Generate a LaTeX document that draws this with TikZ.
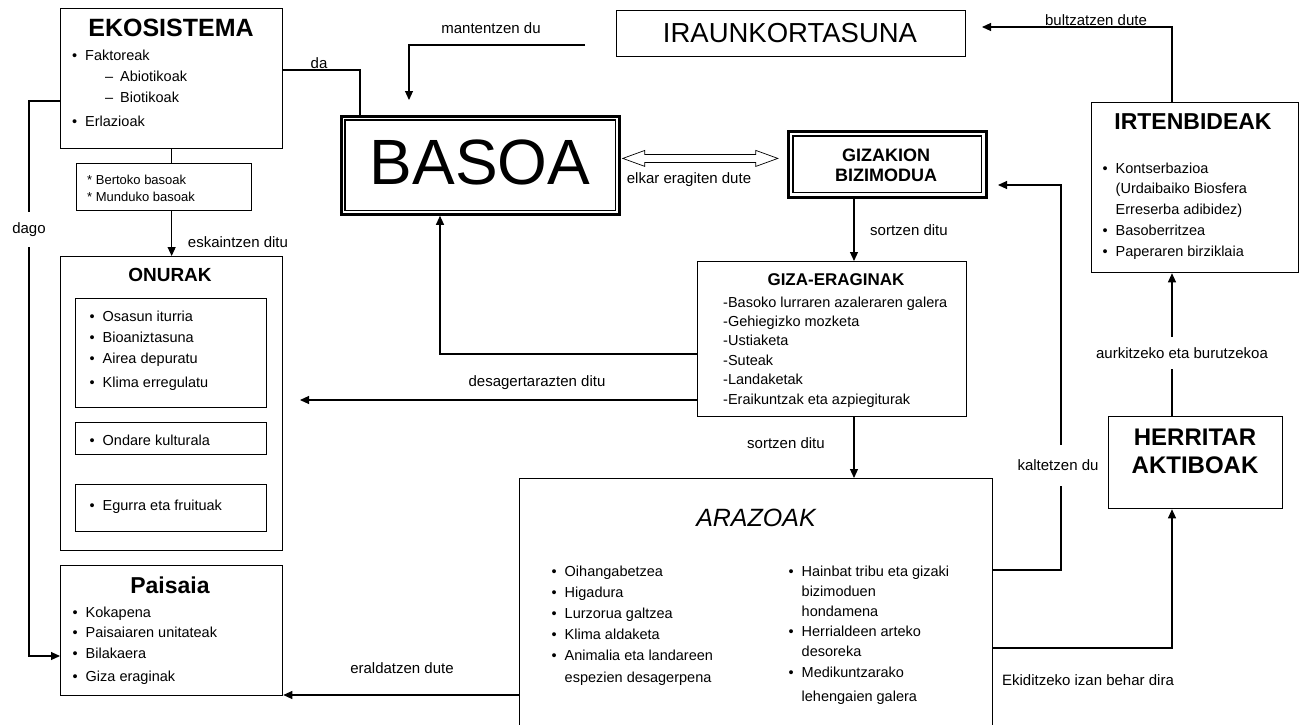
\documentclass[tikz,border=0pt]{standalone}
\usepackage{fontspec}
\setmainfont{Liberation Sans}
\usetikzlibrary{arrows.meta,calc}
\newcommand{\dotitem}{\makebox[13pt][l]{\textbullet}}

\begin{document}
\begin{tikzpicture}[x=1pt,y=-1pt,
    box/.style={draw,line width=1.3pt,anchor=north west,inner sep=0pt},
    conn/.style={line width=1.1pt},
    arr/.style={conn,-{Triangle[length=9pt,width=8pt]}},
    lbl/.style={font=\fontsize{15}{17}\selectfont,inner sep=1pt},
    items/.style={anchor=base west,inner sep=0pt,font=\fontsize{14.5}{#1}\selectfont},
    items/.default=21,
    head/.style={inner sep=0pt,font=\bfseries\fontsize{#1}{#1}\selectfont}]
  \fill[white] (0,0) rectangle (1302,724);
  \useasboundingbox (0,0) rectangle (1302,724);

  % boxes on the left
  \node[box,minimum width=222pt,minimum height=140pt] (eko) at (60,8) {};
  \node[head=25] (ekotit) at (171,28) {EKOSISTEMA};
  \node[items] (ekolist) at (72,60) {\begin{tabular}[t]{@{}l@{}}
      \dotitem Faktoreak\\
      \hspace*{33pt}\makebox[15pt][l]{–}Abiotikoak\\
      \hspace*{33pt}\makebox[15pt][l]{–}Biotikoak\\[3pt]
      \dotitem Erlazioak
    \end{tabular}};
  \node[box,line width=1.1pt,minimum width=175pt,minimum height=47pt] (bertoko) at (76,163) {};
  \node[items,font=\fontsize{13}{17}\selectfont] (bertolist) at (87,184) {\begin{tabular}[t]{@{}l@{}}
      {*} Bertoko basoak\\
      {*} Munduko basoak
    \end{tabular}};

  \node[box,minimum width=222pt,minimum height=294pt] (onurak) at (60,256) {};
  \node[head=19] (onutit) at (170,275) {ONURAK};
  \node[box,line width=1.2pt,minimum width=191pt,minimum height=109pt] (onu1) at (75,298) {};
  \node[box,line width=1.2pt,minimum width=191pt,minimum height=32pt] (onu2) at (75,422) {};
  \node[box,line width=1.2pt,minimum width=191pt,minimum height=47pt] (onu3) at (75,484) {};
  \node[items] (onulist) at (89.5,321) {\begin{tabular}[t]{@{}l@{}}
      \dotitem Osasun iturria\\
      \dotitem Bioaniztasuna\\
      \dotitem Airea depuratu\\[3pt]
      \dotitem Klima erregulatu
    \end{tabular}};
  \node[items] (ondare) at (89.5,445) {\dotitem Ondare kulturala};
  \node[items] (egurra) at (89.5,510) {\dotitem Egurra eta fruituak};

  \node[box,minimum width=222pt,minimum height=130pt] (paisaia) at (60,565) {};
  \node[head=23] (paitit) at (170,585) {Paisaia};
  \node[items=20.5] (pailist) at (72.5,617) {\begin{tabular}[t]{@{}l@{}}
      \dotitem Kokapena\\
      \dotitem Paisaiaren unitateak\\
      \dotitem Bilakaera\\[2.5pt]
      \dotitem Giza eraginak
    \end{tabular}};

  % middle
  \node[box,line width=2.8pt,minimum width=278pt,minimum height=98pt] (basoa) at (340,115) {};
  \draw[line width=1.3pt] ($(basoa.north west)+(5pt,-5pt)$) rectangle ($(basoa.south east)+(-5pt,5pt)$);
  \node[inner sep=0pt,font=\fontsize{64}{64}\selectfont] (basotxt) at (480,162) {BASOA};

  \node[box,minimum width=349pt,minimum height=46pt] (iraun) at (616,10) {};
  \node[inner sep=0pt,font=\fontsize{27.5}{27.5}\selectfont] (iraintxt) at (790,33) {IRAUNKORTASUNA};

  \node[box,line width=2.8pt,minimum width=198pt,minimum height=66pt] (gizakion) at (787,130) {};
  \draw[line width=1.3pt] ($(gizakion.north west)+(6pt,-6pt)$) rectangle ($(gizakion.south east)+(-6pt,6pt)$);
  \node[head=18,align=center] (gizaktxt) at (886,165) {GIZAKION\\[2pt]BIZIMODUA};

  \node[box,minimum width=269pt,minimum height=155pt] (giza) at (697,261) {};
  \node[head=17] (gizatit) at (836,280) {GIZA-ERAGINAK};
  \node[items=19.4] (gizalist) at (723,307) {\begin{tabular}[t]{@{}l@{}}
      -Basoko lurraren azaleraren galera\\
      -Gehiegizko mozketa\\
      -Ustiaketa\\
      -Suteak\\
      -Landaketak\\
      -Eraikuntzak eta azpiegiturak
    \end{tabular}};

  \node[box,minimum width=473pt,minimum height=252pt] (arazoak) at (519,478) {};
  \node[inner sep=0pt,font=\itshape\fontsize{25}{25}\selectfont] (aratit) at (756,518) {ARAZOAK};
  \node[items=21.2] (aralist1) at (551.5,576) {\begin{tabular}[t]{@{}l@{}}
      \dotitem Oihangabetzea\\
      \dotitem Higadura\\
      \dotitem Lurzorua galtzea\\
      \dotitem Klima aldaketa\\
      \dotitem Animalia eta landareen\\
      \hspace*{13pt}espezien desagerpena
    \end{tabular}};
  \node[items=20.2] (aralist2) at (788.5,576) {\begin{tabular}[t]{@{}l@{}}
      \dotitem Hainbat tribu eta gizaki\\
      \hspace*{13pt}bizimoduen\\
      \hspace*{13pt}hondamena\\
      \dotitem Herrialdeen arteko\\
      \hspace*{13pt}desoreka\\
      \dotitem Medikuntzarako\\[4pt]
      \hspace*{13pt}lehengaien galera
    \end{tabular}};

  % right side
  \node[box,minimum width=207pt,minimum height=170pt] (irten) at (1091,102) {};
  \node[head=23] (irtentit) at (1193,122) {IRTENBIDEAK};
  \node[items=20.8] (irtenlist) at (1102.5,173) {\begin{tabular}[t]{@{}l@{}}
      \dotitem Kontserbazioa\\
      \hspace*{13pt}(Urdaibaiko Biosfera\\
      \hspace*{13pt}Erreserba adibidez)\\
      \dotitem Basoberritzea\\
      \dotitem Paperaren birziklaia
    \end{tabular}};

  \node[box,minimum width=174pt,minimum height=92pt] (herritar) at (1108,416) {};
  \node[head=24,align=center] (herrtxt) at (1195,451) {HERRITAR\\[4pt]AKTIBOAK};

  % connectors
  \draw[conn] (eko.east |- 0,70) -| (360,0 |- basoa.north);
  \node[lbl] (da) at (319,63) {da};

  \draw[conn] (eko.south) -- (eko.south |- bertoko.north);
  \draw[arr] (eko.south |- bertoko.south) -- (eko.south |- onurak.north);
  \node[lbl] (eskaintzen) at (238,242) {eskaintzen ditu};

  \node[lbl,minimum height=35pt] (dago) at (29,229.5) {dago};
  \draw[conn] (eko.west |- 0,101) -| (dago.north);
  \draw[arr] (dago.south) |- (paisaia.west |- 0,656);

  \coordinate (mantstart) at (585,45);
  \coordinate (mantend) at (409,100);
  \draw[arr] (mantstart) -| (mantend);
  \node[lbl] (mantentzen) at (491,28) {mantentzen du};

  \path (basoa.east) ++(2pt,7pt) coordinate (elkarl);
  \draw[line width=0.7pt] (elkarl) -- ++(22pt,8pt) -- ++(0,-4pt) -- ++(111pt,0) -- ++(0,4pt)
    -- ++(22pt,-8pt) -- ++(-22pt,-8pt) -- ++(0,4pt) -- ++(-111pt,0) -- ++(0,-4pt) -- cycle;
  \node[lbl] (elkar) at (689,180) {elkar eragiten dute};

  \coordinate (bultzend) at (982,27);
  \draw[arr] (1172,0 |- irten.north) |- (bultzend);
  \node[lbl] (bultzatzen) at (1096,20) {bultzatzen dute};

  \draw[arr] (854,0 |- gizakion.south) -- (854,0 |- giza.north);
  \node[lbl] (sortzen1) at (909,230) {sortzen ditu};
  \draw[arr] (854,0 |- giza.south) -- (854,0 |- arazoak.north);
  \node[lbl] (sortzen2) at (786,443) {sortzen ditu};

  \draw[arr] (giza.west |- 0,354) -| (440,0 |- basoa.south);
  \coordinate (desagend) at (300,400);
  \draw[arr] (giza.west |- 0,400) -- (desagend);
  \node[lbl] (desager) at (537,383) {desagertarazten ditu};

  \draw[arr] (arazoak.west |- 0,695) -- (paisaia.east |- 0,695);
  \node[lbl] (eraldatzen) at (402,668) {eraldatzen dute};

  \node[lbl,minimum height=41pt] (kalt) at (1058,465.5) {kaltetzen du};
  \draw[conn] (arazoak.east |- 0,570) -| (1061,0 |- kalt.south);
  \coordinate (kaltend) at (998,185);
  \draw[arr] (1061,0 |- kalt.north) |- (kaltend);

  \draw[arr] (arazoak.east |- 0,648) -| (1172,0 |- herritar.south);
  \node[lbl] (ekiditzeko) at (1088,680) {Ekiditzeko izan behar dira};

  \node[lbl,minimum height=32pt] (aurk) at (1182,353) {aurkitzeko eta burutzekoa};
  \draw[conn] (1172,0 |- herritar.north) -- (1172,0 |- aurk.south);
  \draw[arr] (1172,0 |- aurk.north) -- (1172,0 |- irten.south);
\end{tikzpicture}
\end{document}
